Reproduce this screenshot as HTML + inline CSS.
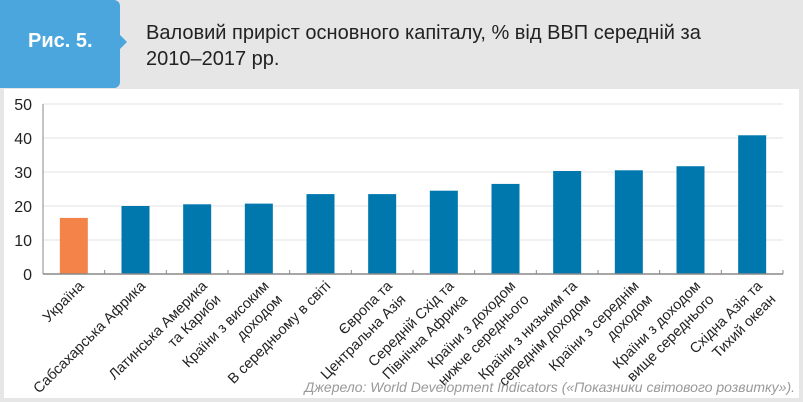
<!DOCTYPE html>
<html><head><meta charset="utf-8"><style>
body{margin:0;width:803px;height:402px;overflow:hidden;background:#fff;font-family:"Liberation Sans",sans-serif}
#wrap{position:absolute;left:0;top:0;width:803px;height:402px;background:#e6e6e6}
#inner{position:absolute;left:4px;top:89px;width:795px;height:309px;background:#fff}
#hdr{position:absolute;left:0;top:0;width:803px;height:88px;background:#e6e6e6}
#tab{position:absolute;left:0;top:0;width:120px;height:88px;background:#4aa6dc;border-radius:0 6px 6px 0}
#arrow{position:absolute;left:120px;top:35px;width:0;height:0;border-top:7px solid transparent;border-bottom:7px solid transparent;border-left:7px solid #4aa6dc}
#fig{position:absolute;left:28px;top:30px;color:#fff;font-weight:bold;font-size:20px}
#title{position:absolute;left:146px;top:20px;font-size:20px;line-height:26px;color:#222}
</style></head><body>
<div id="wrap">
<div id="hdr">
<div id="tab"><div id="fig">Рис. 5.</div></div>
<div id="arrow"></div>
<div id="title">Валовий приріст основного капіталу, % від ВВП середній за<br>2010–2017 рр.</div>
</div>
<div id="inner"></div>
<svg id="chart" width="803" height="402" style="position:absolute;left:0;top:0"></svg>
</div>
<script>
const categories=[["Україна"],["Сабсахарська Африка"],["Латинська Америка","та Кариби"],["Країни з високим","доходом"],["В середньому в світі"],["Європа та","Центральна Азія"],["Середній Схід та","Північна Африка"],["Країни з доходом","нижче середнього"],["Країни з низьким та","середнім доходом"],["Країни з середнім","доходом"],["Країни з доходом","вище середнього"],["Східна Азія та","Тихий океан"]];
const values=[16.5,20,20.5,20.7,23.5,23.5,24.5,26.5,30.3,30.5,31.7,40.8];
const yTicks=[0,10,20,30,40,50];
const svg=document.getElementById('chart');
const NS='http://www.w3.org/2000/svg';
const x0=43,x1=783,y0=274,yTop=104,yMax=50;
const step=(x1-x0)/categories.length;
const ys=v=>y0-(v/yMax)*(y0-yTop);
const xc=i=>x0+step*(i+0.5);
function mk(t,a){const e=document.createElementNS(NS,t);for(const k in a)e.setAttribute(k,a[k]);svg.appendChild(e);return e;}
yTicks.forEach(t=>{
 if(t>0){const g=mk('line',{x1:x0,x2:x1,y1:ys(t),y2:ys(t),stroke:'#e3e3e3','stroke-width':1});
 
 }
 const l=mk('text',{x:32,y:ys(t)+6,'text-anchor':'end','font-size':16,fill:'#222','font-family':'Liberation Sans, sans-serif'});
 l.textContent=t;
 
 
});
values.forEach((v,i)=>{
 const r=mk('rect',{x:xc(i)-14,y:ys(v),width:28,height:y0-ys(v),fill:i===0?'#f4834a':'#0077ad'});
 
 
});
const ax=mk('line',{x1:x0,x2:x1,y1:y0,y2:y0,stroke:'#888','stroke-width':1.5});


const ay=mk('line',{x1:x0,x2:x0,y1:yTop,y2:y0,stroke:'#888','stroke-width':1});


for(let i=0;i<=categories.length;i++){
 const t=mk('line',{x1:x0+step*i,x2:x0+step*i,y1:y0,y2:y0-4,stroke:'#888','stroke-width':1});
 
 
}
categories.forEach((c,i)=>{
 const x=xc(i)+8,y=y0+10;
 const g=mk('text',{transform:`translate(${x},${y}) rotate(-45)`,'text-anchor':'end','font-size':14.5,fill:'#222','font-family':'Liberation Sans, sans-serif'});
 
 
 c.forEach((ln,j)=>{const s=document.createElementNS(NS,'tspan');s.setAttribute('x',0);s.setAttribute('y',j*19+4);s.textContent=ln;g.appendChild(s);});
});
const src=mk('text',{x:795,y:392,'text-anchor':'end','font-size':14,'font-style':'italic',fill:'#999','font-family':'Liberation Sans, sans-serif'});
src.textContent='Джерело: World Development Indicators («Показники світового розвитку»).';


</script>
</body></html>
